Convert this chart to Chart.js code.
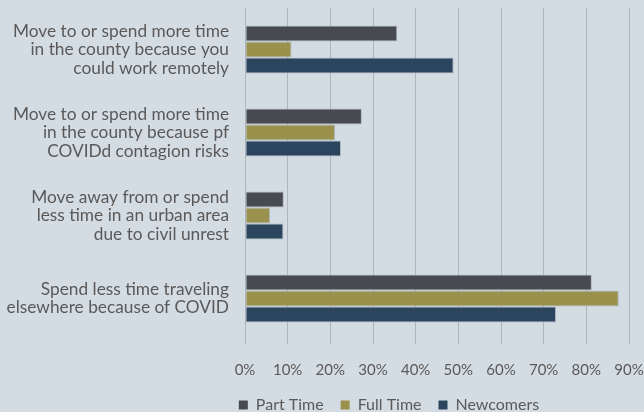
<!DOCTYPE html>
<html>
<head>
<meta charset="utf-8">
<script src="https://cdn.jsdelivr.net/npm/chart.js@4/dist/chart.umd.min.js"></script>
<style>
  html, body { margin: 0; padding: 0; background: #d4dce3; }
  #wrap { width: 644px; height: 412px; position: relative; }
</style>
</head>
<body>
<div id="wrap"><canvas id="chart"></canvas></div>
<script>
// data
const categories = [
    ['Move to or spend more time', 'in the county because you', 'could work remotely'],
    ['Move to or spend more time', 'in the county because pf', 'COVIDd contagion risks'],
    ['Move away from or spend', 'less time in an urban area', 'due to civil unrest'],
    ['Spend less time traveling', 'elsewhere because of COVID'],
];
const seriesNames = ['Part Time', 'Full Time', 'Newcomers'];
const partTime = [35.7, 27.4, 9.1, 81.3];
const fullTime = [10.9, 21.1, 5.9, 87.6];
const newcomers = [48.9, 22.5, 9.0, 72.9];
const xTicks = [0, 10, 20, 30, 40, 50, 60, 70, 80, 90];

const colors = ['#474b51', '#9a914d', '#2b455f'];
const textColor = '#595959';
const gridColor = '#adb5bd';

// nudge the legend to where it sits in the original
const legendShift = {
    id: 'legendShift',
    afterLayout(chart) {
        const lg = chart.legend;
        if (!lg) return;
        lg.left += 67;
        lg.right += 67;
        lg.top -= 16;
        lg.bottom -= 16;
    },
};

const ctx = document.getElementById('chart');

const chart = new Chart(ctx, {
    type: 'bar',
    data: {
        labels: categories,
        datasets: [partTime, fullTime, newcomers].map((d, i) => ({
            label: seriesNames[i],
            data: d,
            backgroundColor: colors[i],
            borderColor: 'rgba(170,178,186,0.9)',
            borderWidth: 1,
            borderSkipped: false,
            barPercentage: 1,
            categoryPercentage: 0.58,
        })),
    },
    options: {
        indexAxis: 'y',
        responsive: true,
        maintainAspectRatio: false,
        animation: false,
        layout: {
            padding: { top: 8, right: 0, bottom: -20, left: 0 },
        },
        scales: {
            x: {
                min: 0,
                max: 90,
                afterBuildTicks: (scale) => {
                    scale.ticks = xTicks.map(v => ({ value: v }));
                },
                ticks: {
                    color: textColor,
                    font: { family: 'Lato', size: 15 },
                    padding: 17,
                    callback: (v) => v + '%',
                },
                grid: {
                    color: gridColor,
                    lineWidth: 1,
                    tickLength: 4,
                },
                border: { display: false },
                afterFit: (scale) => {
                    scale.paddingRight = 15;
                    scale.paddingLeft = 0;
                },
            },
            y: {
                ticks: {
                    color: textColor,
                    font: { family: 'Lato', size: 17.3, lineHeight: 1.07 },
                    padding: 16,
                },
                grid: { display: false, drawTicks: false },
                border: { display: true, color: gridColor, width: 1 },
                afterFit: (scale) => {
                    scale.width = 245;
                    scale.paddingTop = 0;
                    scale.paddingBottom = 0;
                },
            },
        },
        plugins: {
            legend: {
                position: 'bottom',
                maxHeight: 36,
                labels: {
                    color: textColor,
                    font: { family: 'Lato', size: 16 },
                    boxWidth: 9,
                    boxHeight: 9,
                    padding: 17,
                    generateLabels: (c) => c.data.datasets.map((ds, i) => ({
                        text: ds.label,
                        fillStyle: colors[i],
                        strokeStyle: colors[i],
                        lineWidth: 0,
                        fontColor: textColor,
                        datasetIndex: i,
                    })),
                },
                onClick: () => {},
            },
            tooltip: { enabled: false },
        },
    },
    plugins: [legendShift],
});
</script>
</body>
</html>
